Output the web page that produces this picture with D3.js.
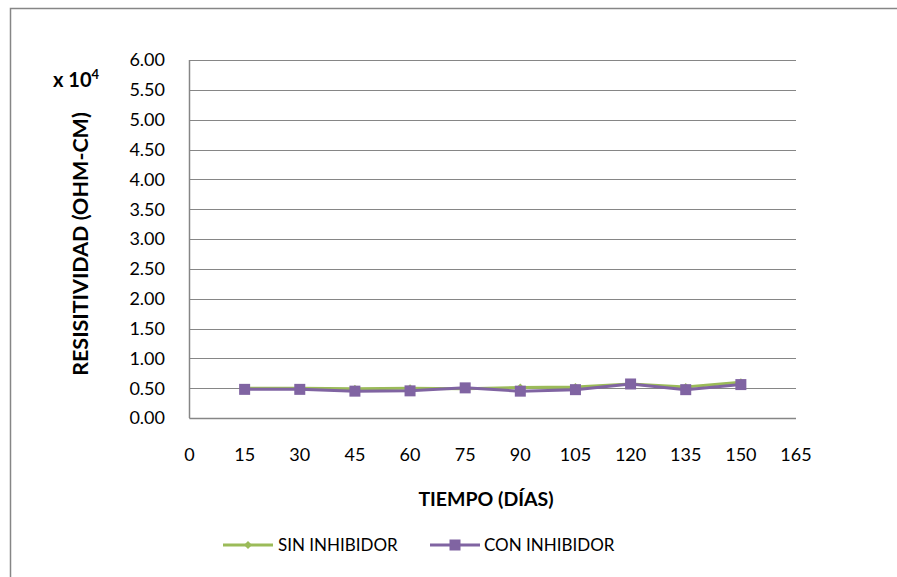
<!DOCTYPE html>
<html><head><meta charset="utf-8">
<script src="https://cdn.jsdelivr.net/npm/d3@7"></script>
<style>body{margin:0;background:#fff}svg{display:block}text{font-family:Lato,"Open Sans",sans-serif;fill:#000}</style>
</head><body><svg id="c" width="897" height="577"></svg>
<script>
const days = [15,30,45,60,75,90,105,120,135,150];
const sinInhibidor = [0.50,0.50,0.49,0.50,0.49,0.51,0.52,0.57,0.52,0.60];
const conInhibidor = [0.48,0.48,0.45,0.455,0.505,0.45,0.475,0.57,0.475,0.56];
const yTicks = [0,0.5,1,1.5,2,2.5,3,3.5,4,4.5,5,5.5,6];
const xTicks = [0,15,30,45,60,75,90,105,120,135,150,165];
const seriesNames = ["SIN INHIBIDOR","CON INHIBIDOR"];
const colors = ["#9BBB59","#8064A2"];

const svg = d3.select("#c");
svg.append("rect").attr("x",10.5).attr("y",8.5).attr("width",1000).attr("height",1000)
  .attr("fill","none").attr("stroke","#868686").attr("stroke-width",1.5);

const L=189.5,R=796,T=60,B=418;
const x = d3.scaleLinear().domain([0,165]).range([L,R]);
const y = d3.scaleLinear().domain([0,6]).range([B,T]);

svg.append("g").selectAll("line").data(yTicks).join("line")
  .attr("x1",L).attr("x2",R).attr("y1",d=>Math.round(y(d))+0.5).attr("y2",d=>Math.round(y(d))+0.5)
  .attr("stroke","#868686").attr("stroke-width",1.2);
svg.append("line").attr("x1",L).attr("x2",L).attr("y1",T).attr("y2",B).attr("stroke","#868686").attr("stroke-width",1.5);
svg.append("line").attr("x1",L).attr("x2",R).attr("y1",B+0.5).attr("y2",B+0.5).attr("stroke","#868686").attr("stroke-width",1.5);

svg.append("g").selectAll("text").data(yTicks).join("text")
  .attr("x",165).attr("y",d=>y(d)).attr("dy","0.36em").attr("text-anchor","end")
  .style("font-size","18px").text(d=>d3.format(".2f")(d));
svg.append("g").selectAll("text").data(xTicks).join("text")
  .attr("x",d=>x(d)).attr("y",455).attr("dy","0.36em").attr("text-anchor","middle")
  .style("font-size","18px").text(d=>d);

svg.append("text").attr("x",486).attr("y",499).attr("dy","0.36em").attr("text-anchor","middle")
  .style("font-size","19.5px").style("font-weight","bold").text("TIEMPO (DÍAS)");
svg.append("text").attr("transform","translate(80,244) rotate(-90)").attr("dy","0.36em").attr("text-anchor","middle")
  .style("font-size","21.5px").style("font-weight","bold").text("RESISITIVIDAD (OHM-CM)");
const mult = svg.append("text").attr("x",53).attr("y",87).style("font-size","20px").style("font-weight","bold");
mult.append("tspan").text("x 10");
mult.append("tspan").attr("dy",-8).style("font-size","13px").text("4");

const line = d3.line().x((d,i)=>x(days[i])).y(d=>y(d));
const data = [sinInhibidor, conInhibidor];
data.forEach((vals,k)=>{
  svg.append("path").attr("d",line(vals)).attr("fill","none").attr("stroke",colors[k]).attr("stroke-width",3).attr("stroke-linejoin","round");
  const g = svg.append("g");
  vals.forEach((v,i)=>{
    if(k===0){
      g.append("path").attr("d",d3.symbol(d3.symbolDiamond2,40)()).attr("transform",`translate(${x(days[i])},${y(v)})`).attr("fill",colors[0]);
    } else {
      g.append("rect").attr("x",x(days[i])-5.5).attr("y",y(v)-5.5).attr("width",11).attr("height",11).attr("fill",colors[1]);
    }
  });
});

const lg = [{x0:223,tx:278},{x0:430,tx:484}];
lg.forEach((p,k)=>{
  svg.append("line").attr("x1",p.x0).attr("x2",p.x0+50).attr("y1",545).attr("y2",545).attr("stroke",colors[k]).attr("stroke-width",3);
  if(k===0) svg.append("path").attr("d",d3.symbol(d3.symbolDiamond2,40)()).attr("transform",`translate(${p.x0+25},545)`).attr("fill",colors[0]);
  else svg.append("rect").attr("x",p.x0+25-5.5).attr("y",539.5).attr("width",11).attr("height",11).attr("fill",colors[1]);
  svg.append("text").attr("x",p.tx).attr("y",545).attr("dy","0.36em").style("font-size","17px").text(seriesNames[k]);
});
</script></body></html>
